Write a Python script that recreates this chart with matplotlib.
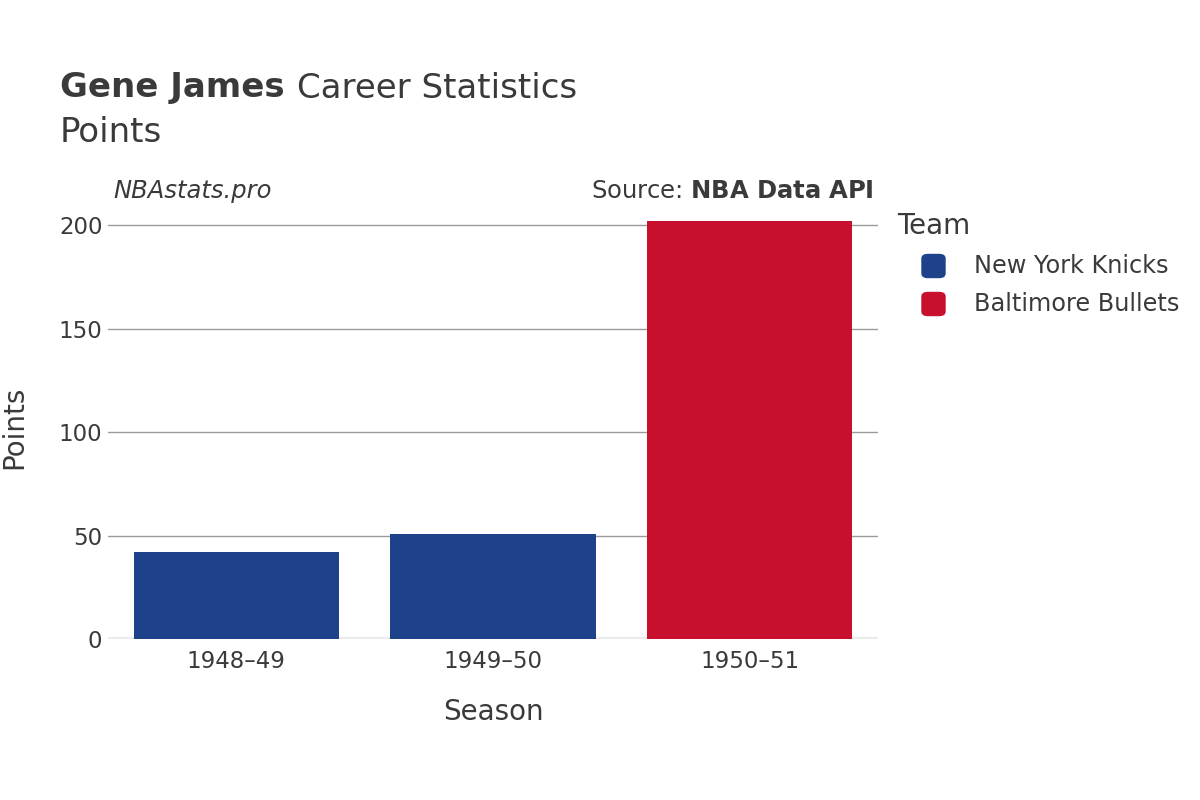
import matplotlib.pyplot as plt
from matplotlib.patches import FancyBboxPatch

# data
seasons = ['1948–49', '1949–50', '1950–51']
points = [42, 51, 202]
teams = ['New York Knicks', 'New York Knicks', 'Baltimore Bullets']
team_colors = {'New York Knicks': '#1d428a', 'Baltimore Bullets': '#c8102e'}
yticks = [0, 50, 100, 150, 200]

txt = '#3a3a3a'
fig = plt.figure(figsize=(12, 8), dpi=100)
W, H = 1200, 800
# axes area in pixels: x 108..878, y 215..639
ax = fig.add_axes([108 / W, 1 - 639 / H, 770 / W, (639 - 215) / H])

colors = [team_colors[t] for t in teams]
ax.bar(range(len(seasons)), points, width=0.8, color=colors, zorder=3)

ax.set_xlim(-0.5, 2.5)
ax.set_ylim(0, 424 / 2.068)
ax.set_yticks(yticks)
ax.set_xticks(range(len(seasons)))
ax.set_xticklabels(seasons)
ax.grid(axis='y', color='#9a9a9a', linewidth=1, zorder=0)
ax.axhline(0, color='#ebebeb', linewidth=3, zorder=2)
for s in ax.spines.values():
    s.set_visible(False)
ax.tick_params(length=0, labelsize=16.5, labelcolor=txt, pad=8)
ax.tick_params(axis='y', pad=4)
ax.set_xlabel('Season', fontsize=20, color=txt, labelpad=18)
ax.set_ylabel('Points', fontsize=20, color=txt, labelpad=22)

# titles
t1 = fig.text(60 / W, 1 - 88 / H, 'Gene James', fontsize=24.5, fontweight='bold', color=txt, va='center')
fig.canvas.draw()
bb = t1.get_window_extent()
fig.text((bb.x1 + 12) / W, 1 - 88 / H, 'Career Statistics', fontsize=24.5, color=txt, va='center')
fig.text(60 / W, 1 - 132 / H, 'Points', fontsize=24.5, color=txt, va='center')
fig.text(113 / W, 1 - 191 / H, 'NBAstats.pro', fontsize=17.5, style='italic', color=txt, va='center')
fig.text(874 / W, 1 - 191 / H, 'Source: $\\bf{NBA\\ Data\\ API}$', fontsize=17.5, color=txt, va='center', ha='right')

# legend
fig.text(897 / W, 1 - 226 / H, 'Team', fontsize=20, color=txt, va='center')
for i, name in enumerate(team_colors):
    y = 266 + i * 38
    fig.patches.append(FancyBboxPatch((922 / W, 1 - (y + 11.5) / H), 23 / W, 23 / H,
                                      boxstyle='round,pad=0,rounding_size=0.005',
                                      transform=fig.transFigure, color=team_colors[name]))
    fig.text(974 / W, 1 - y / H, name, fontsize=17.3, color=txt, va='center')

fig.savefig('out.png')
